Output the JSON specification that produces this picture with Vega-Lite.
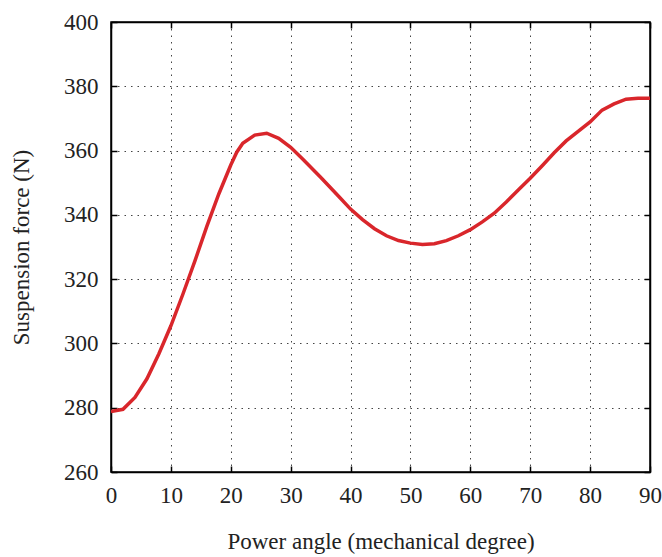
{
  "$schema": "https://vega.github.io/schema/vega-lite/v6.json",
  "width": 539,
  "height": 450,
  "autosize": {"type": "none"},
  "padding": {"left": 111, "top": 22, "right": 12, "bottom": 85},
  "background": "white",
  "config": {
    "view": {"stroke": "black", "strokeWidth": 1.5},
    "axis": {
      "labelFont": "Liberation Serif",
      "titleFont": "Liberation Serif",
      "labelFontSize": 23,
      "titleFontSize": 23,
      "labelColor": "#222",
      "titleColor": "#222",
      "titleFontWeight": "normal",
      "labelFlush": false,
      "labelOverlap": false,
      "domainColor": "black",
      "domainWidth": 1.5,
      "tickColor": "black",
      "tickWidth": 1.5,
      "gridColor": "#444",
      "gridDash": [1.5, 5],
      "gridWidth": 1
    }
  },
  "data": {
    "values": [
      {"a": 0, "f": 278.8},
      {"a": 2, "f": 279.5},
      {"a": 4, "f": 283.2},
      {"a": 6, "f": 289},
      {"a": 8, "f": 296.8},
      {"a": 10, "f": 305.5},
      {"a": 12, "f": 315.3},
      {"a": 14, "f": 325.6},
      {"a": 16, "f": 336.4},
      {"a": 18, "f": 346.5},
      {"a": 20, "f": 355.5},
      {"a": 21, "f": 359.5},
      {"a": 22, "f": 362.3},
      {"a": 24, "f": 364.8},
      {"a": 26, "f": 365.4},
      {"a": 28, "f": 363.8},
      {"a": 30, "f": 361},
      {"a": 32, "f": 357.4},
      {"a": 35, "f": 351.7},
      {"a": 38, "f": 345.8},
      {"a": 40, "f": 341.8},
      {"a": 42, "f": 338.5},
      {"a": 44, "f": 335.7},
      {"a": 46, "f": 333.5},
      {"a": 48, "f": 332},
      {"a": 50, "f": 331.2},
      {"a": 52, "f": 330.8},
      {"a": 54, "f": 331},
      {"a": 56, "f": 332},
      {"a": 58, "f": 333.5},
      {"a": 60, "f": 335.4},
      {"a": 62, "f": 337.8},
      {"a": 64, "f": 340.5},
      {"a": 66, "f": 344},
      {"a": 68, "f": 347.7},
      {"a": 70, "f": 351.4},
      {"a": 72, "f": 355.3},
      {"a": 74, "f": 359.3},
      {"a": 76, "f": 363},
      {"a": 78, "f": 366},
      {"a": 80, "f": 368.9},
      {"a": 82, "f": 372.6},
      {"a": 84, "f": 374.5},
      {"a": 86, "f": 376},
      {"a": 88, "f": 376.3},
      {"a": 90, "f": 376.3}
    ]
  },
  "layer": [
    {
      "mark": {"type": "line", "color": "#d9262b", "strokeWidth": 3.5, "clip": true},
      "encoding": {
        "x": {
          "field": "a", "type": "quantitative",
          "scale": {"domain": [0, 90], "nice": false},
          "axis": {"title": "Power angle (mechanical degree)", "values": [0,10,20,30,40,50,60,70,80,90], "tickSize": -6, "labelPadding": 18, "titlePadding": 23, "grid": true}
        },
        "y": {
          "field": "f", "type": "quantitative",
          "scale": {"domain": [260, 400], "nice": false, "zero": false},
          "axis": {"title": "Suspension force (N)", "values": [260,280,300,320,340,360,380,400], "tickSize": -6, "labelPadding": 19, "titlePadding": 30, "grid": true}
        }
      }
    },
    {
      "mark": {"type": "line", "opacity": 0},
      "encoding": {
        "x": {
          "field": "a", "type": "quantitative",
          "scale": {"domain": [0, 90], "nice": false},
          "axis": {"orient": "top", "title": null, "labels": false, "grid": false, "values": [0,10,20,30,40,50,60,70,80,90], "tickSize": -6}
        },
        "y": {
          "field": "f", "type": "quantitative",
          "scale": {"domain": [260, 400], "nice": false, "zero": false},
          "axis": {"orient": "right", "title": null, "labels": false, "grid": false, "values": [260,280,300,320,340,360,380,400], "tickSize": -6}
        }
      }
    }
  ],
  "resolve": {"axis": {"x": "independent", "y": "independent"}}
}
